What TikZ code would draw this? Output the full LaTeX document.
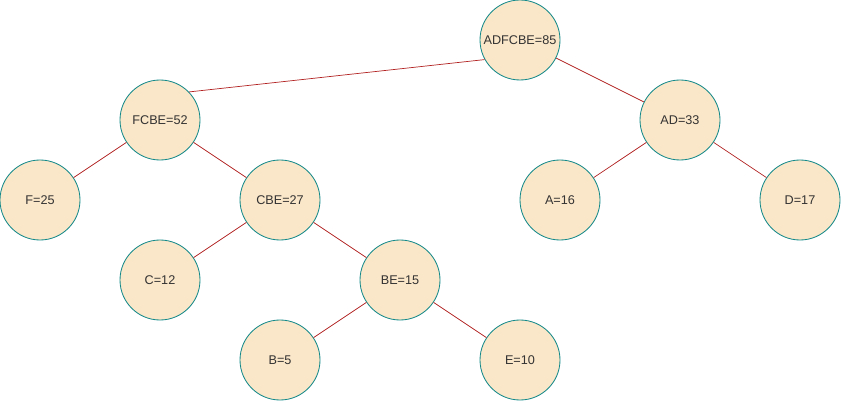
\documentclass[tikz,border=0pt]{standalone}
\usepackage{fontspec}
\setmainfont{Liberation Sans}
\usepackage{tikz}
\definecolor{nodefill}{HTML}{FAE6C8}
\definecolor{nodeline}{HTML}{168A8A}
\definecolor{edge}    {HTML}{B22222}
\definecolor{ink}     {HTML}{333333}

\begin{document}
\begin{tikzpicture}[x=1cm, y=-1cm,
    weight/.style={circle, draw=nodeline, fill=nodefill, line width=0.6pt,
      minimum size=2cm, inner sep=0pt, font=\fontsize{9}{10}\selectfont, text=ink},
    link/.style={draw=edge, line width=0.5pt}]
      \useasboundingbox (0,0) rectangle (21.05,10.025);
      % tree nodes
      \node[weight] (adfcbe) at (13,1) {ADFCBE=85};
      \node[weight] (fcbe)   at (4,3)  {FCBE=52};
      \node[weight] (ad)     at (17,3) {AD=33};
      \node[weight] (f)      at (1,5)  {F=25};
      \node[weight] (cbe)    at (7,5)  {CBE=27};
      \node[weight] (a)      at (14,5) {A=16};
      \node[weight] (d)      at (20,5) {D=17};
      \node[weight] (c)      at (4,7)  {C=12};
      \node[weight] (be)     at (10,7) {BE=15};
      \node[weight] (b)      at (7,9)  {B=5};
      \node[weight] (e)      at (13,9) {E=10};
      % edges
      \draw[link] (adfcbe.209) -- (fcbe.44);
      \draw[link] (adfcbe) -- (ad);
      \draw[link] (fcbe) -- (f);
      \draw[link] (fcbe) -- (cbe);
      \draw[link] (ad) -- (a);
      \draw[link] (ad) -- (d);
      \draw[link] (cbe) -- (c);
      \draw[link] (cbe) -- (be);
      \draw[link] (be) -- (b);
      \draw[link] (be) -- (e);
    \end{tikzpicture}
\end{document}
